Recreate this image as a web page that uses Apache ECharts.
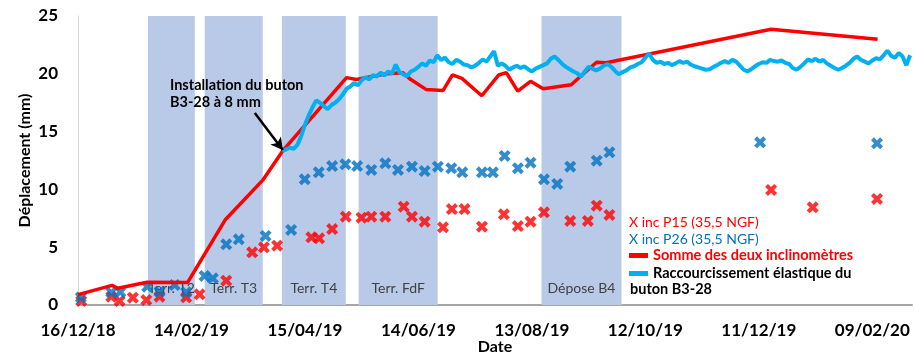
<!DOCTYPE html>
<html>
<head>
<meta charset="utf-8">
<title>Déplacement - buton B3-28</title>
<script src="https://cdn.jsdelivr.net/npm/echarts@6/dist/echarts.min.js"></script>
<style>
  html, body { margin: 0; padding: 0; background: #ffffff; }
  #chart { width: 914px; height: 355px; }
</style>
</head>
<body>
<div id="chart"></div>
<script>
// x values are days counted from 16/12/2018
const ORIGIN_UTC = Date.UTC(2018, 11, 16);

// Sum of the two inclinometers
const sumDays = [0, 18, 21, 36.5, 58, 78, 97.7, 108.3, 142, 147.2, 163, 171.7, 176, 184, 193, 198, 203, 213.5, 222.5, 226.5, 232.5, 239.3, 246, 260.8, 265.2, 274.2, 279.3, 366.5, 422.8];
const sumVals = [0.9, 1.7, 1.45, 1.97, 1.95, 7.4, 10.8, 13.35, 19.67, 19.5, 20.0, 20.1, 19.5, 18.65, 18.55, 19.9, 19.6, 18.1, 19.9, 20.1, 18.5, 19.35, 18.7, 19.05, 19.7, 21.0, 20.95, 23.85, 22.98];

// Inclinometer P15 (35,5 NGF)
const p15Days = [1.7, 17.6, 22, 29, 36.1, 43.1, 57.2, 64.3, 78.4, 92.1, 98.3, 105.3, 123.4, 127.5, 134.4, 141.6, 149.9, 155.1, 162.5, 172.2, 176.6, 183.3, 193, 197.7, 204.4, 213.6, 225.2, 232.6, 239.3, 246.4, 260.3, 269.6, 274.3, 281, 366.5, 388.5, 422.5];
const p15Vals = [0.35, 0.72, 0.35, 0.63, 0.43, 0.72, 0.66, 0.92, 2.1, 4.56, 4.99, 5.13, 5.86, 5.77, 6.57, 7.64, 7.55, 7.64, 7.64, 8.5, 7.64, 7.21, 6.72, 8.3, 8.3, 6.77, 7.85, 6.83, 7.21, 8.02, 7.27, 7.27, 8.59, 7.79, 9.95, 8.45, 9.17];

// Inclinometer P26 (35,5 NGF)
const p26Days = [1.5, 17.6, 22.4, 36.6, 43.1, 51.1, 57.2, 66.9, 71.3, 78.4, 85, 99.2, 112.7, 119.9, 127.3, 134.4, 141.4, 147.6, 155.1, 162.5, 169.2, 176.6, 183.3, 190.3, 197.4, 203.2, 213.6, 219.4, 225.6, 232.6, 239.3, 246.4, 253.4, 260.3, 274.3, 281, 360.7, 422.5];
const p26Vals = [0.65, 1.1, 1.12, 1.58, 1.15, 1.73, 1.1, 2.51, 2.31, 5.25, 5.68, 5.97, 6.49, 10.87, 11.48, 12.02, 12.17, 12.02, 11.68, 12.26, 11.68, 11.97, 11.59, 11.97, 11.83, 11.48, 11.48, 11.48, 12.89, 11.83, 12.31, 10.87, 10.47, 11.97, 12.48, 13.21, 14.07, 13.99];

// Elastic shortening of strut B3-28, one reading every 2 days from day 108
const elasticStartDay = 108;
const elasticStepDays = 2;
const elasticVals = [
  13.3, 13.45, 13.6, 13.5, 13.85, 14.6, 15.6, 16.4, 17.1, 17.7,
  17.5, 17.2, 16.95, 17.3, 17.5, 17.8, 18.2, 18.7, 18.9, 19.2,
  19.0, 19.45, 19.7, 19.5, 19.9, 19.75, 20.1, 19.85, 20.2, 20.0,
  20.8, 20.15, 19.95, 19.8, 20.2, 20.35, 20.6, 20.9, 20.7, 21.15,
  21.0, 21.6, 21.2, 21.4, 21.0, 20.85, 21.2, 21.05, 20.8, 20.75,
  20.55, 20.7, 20.95, 21.25, 21.05, 21.5, 21.95, 20.7, 20.9, 20.7,
  20.35, 20.55, 20.7, 20.5, 20.65, 20.4, 20.2, 20.45, 20.6, 20.75,
  20.9, 21.3, 21.5, 21.2, 20.85, 20.6, 20.4, 20.2, 20.05, 19.75,
  20.2, 20.6, 20.45, 20.3, 20.45, 20.7, 20.85, 20.6, 20.25, 19.95,
  20.15, 20.3, 20.55, 20.65, 20.85, 21.0, 21.4, 21.75, 21.2, 20.95,
  21.05, 20.85, 20.95, 20.75, 20.9, 21.1, 20.95, 21.05, 20.8, 20.65,
  20.55, 20.45, 20.35, 20.4, 20.6, 20.75, 20.95, 21.1, 20.95, 21.2,
  21.05, 20.7, 20.35, 20.2, 20.4, 20.65, 20.85, 21.0, 20.95, 21.2,
  21.1, 21.05, 21.15, 20.95, 20.85, 20.5, 20.35, 20.6, 20.9, 21.25,
  21.1, 21.3, 21.05, 21.2, 20.9, 20.7, 20.5, 20.35, 20.5, 20.7,
  20.95, 21.3, 21.5, 21.2, 21.05, 20.9, 21.15, 21.35, 21.25, 21.6,
  22.0, 21.55, 21.4, 21.8, 21.5, 20.75, 21.6
];

// Works phases (start day, end day, label)
const phaseStarts = [37, 67, 107.8, 148.4, 245.1];
const phaseEnds   = [61.8, 97.7, 141.6, 190.2, 287.4];
const phaseLabels = ['Terr. T2', 'Terr. T3', 'Terr. T4', 'Terr. FdF', 'Dépose B4'];

// Strut installation point and the arrow tail
const installPoint = [108.3, 13.4];
const installArrowTail = [93.5, 16.6];

const yTicks = { min: 0, max: 25, interval: 5 };
const xTicks = { min: 0, max: 441, interval: 60 };

const FONT = 'Lato, Carlito, Calibri, "Liberation Sans", sans-serif';

function dayLabel(v) {
  const d = new Date(ORIGIN_UTC + Math.round(v) * 86400000);
  const dd = String(d.getUTCDate()).padStart(2, '0');
  const mm = String(d.getUTCMonth() + 1).padStart(2, '0');
  const yy = String(d.getUTCFullYear() % 100).padStart(2, '0');
  return dd + '/' + mm + '/' + yy;
}

function zip(xs, ys) { return xs.map((x, i) => [x, ys[i]]); }

// bold "x" marker
const crossPath = 'path://M0,2.4 L2.4,0 L5,2.6 L7.6,0 L10,2.4 L7.4,5 L10,7.6 L7.6,10 L5,7.4 L2.4,10 L0,7.6 L2.6,5 Z';

const NAME_P15 = 'X inc P15 (35,5 NGF)';
const NAME_P26 = 'X inc P26 (35,5 NGF)';
const NAME_SUM = 'Somme des deux inclinomètres';
const NAME_EL = 'Raccourcissement élastique du';

const chart = echarts.init(document.getElementById('chart'), null, { renderer: 'canvas' });

chart.setOption({
  animation: false,
  backgroundColor: '#ffffff',
  textStyle: { fontFamily: FONT },
  grid: { left: 78, right: 2, top: 16, bottom: 50, containLabel: false, outerBoundsMode: 'none' },
  xAxis: {
    type: 'value',
    min: xTicks.min, max: xTicks.max, interval: xTicks.interval,
    name: 'Date',
    nameLocation: 'middle',
    nameGap: 34,
    nameMoveOverlap: false,
    nameTextStyle: { fontFamily: FONT, fontWeight: 'bold', fontSize: 16, color: '#000' },
    axisLine: { show: true, lineStyle: { color: '#a6a6a6', width: 2 } },
    axisTick: { show: false },
    splitLine: { show: false },
    axisLabel: {
      formatter: dayLabel,
      showMaxLabel: false,
      margin: 17,
      fontFamily: FONT, fontWeight: 'bold', fontSize: 17, color: '#000'
    }
  },
  yAxis: {
    type: 'value',
    min: yTicks.min, max: yTicks.max, interval: yTicks.interval,
    name: 'Déplacement (mm)',
    nameLocation: 'middle',
    nameRotate: 90,
    nameGap: 45,
    nameMoveOverlap: false,
    nameTextStyle: { fontFamily: FONT, fontWeight: 'bold', fontSize: 16, color: '#000' },
    axisLine: { show: true, lineStyle: { color: '#d9d9d9', width: 1 } },
    axisTick: { show: false },
    splitLine: { show: false },
    axisLabel: { margin: 20, fontFamily: FONT, fontWeight: 'bold', fontSize: 17, color: '#000' }
  },
  legend: [
    {
      orient: 'vertical', left: 619, top: 210,
      icon: 'none', itemWidth: 0, itemHeight: 14, itemGap: 3,
      selectedMode: false,
      textStyle: { fontFamily: FONT, fontSize: 14, lineHeight: 14 },
      data: [
        { name: NAME_P15, textStyle: { color: '#ff0000' } },
        { name: NAME_P26, textStyle: { color: '#0070c0' } }
      ]
    },
    {
      orient: 'vertical', left: 624, top: 243,
      icon: 'rect', itemWidth: 19, itemHeight: 5, itemGap: 3,
      selectedMode: false,
      textStyle: { fontFamily: FONT, fontSize: 14.5, fontWeight: 'bold', lineHeight: 14 },
      data: [
        { name: NAME_SUM, textStyle: { color: '#ff0000', fontWeight: 'bold' } },
        { name: NAME_EL, textStyle: { color: '#000000', fontWeight: 'bold' } }
      ]
    }
  ],
  graphic: [
    {
      type: 'text', left: 630, top: 282, z: 100, silent: true,
      style: { text: 'buton B3-28', fontFamily: FONT, fontSize: 14.5, fontWeight: 'bold', fill: '#000' }
    },
    {
      type: 'text', left: 170, top: 77, z: 100, silent: true,
      style: {
        text: 'Installation du buton\nB3-28 à 8 mm',
        fontFamily: FONT, fontSize: 14.5, fontWeight: 'bold', fill: '#000', lineHeight: 17
      }
    }
  ],
  series: [
    {
      // works phases
      name: 'phases',
      type: 'line',
      data: [],
      z: 1,
      silent: true,
      markArea: {
        silent: true,
        itemStyle: { color: '#b9cae8' },
        label: {
          show: true, position: 'insideBottom', distance: 10,
          fontFamily: FONT, fontSize: 14, color: '#404040'
        },
        data: phaseStarts.map((s, i) => [
          { xAxis: s, yAxis: yTicks.min, name: phaseLabels[i] },
          { xAxis: phaseEnds[i], yAxis: yTicks.max }
        ])
      }
    },
    {
      name: NAME_P15,
      type: 'scatter',
      z: 2,
      symbol: crossPath,
      symbolSize: 12,
      itemStyle: { color: '#ff0000' },
      data: zip(p15Days, p15Vals)
    },
    {
      name: NAME_P26,
      type: 'scatter',
      z: 2,
      symbol: crossPath,
      symbolSize: 12,
      itemStyle: { color: '#0070c0' },
      data: zip(p26Days, p26Vals)
    },
    {
      name: NAME_SUM,
      type: 'line',
      z: 3,
      showSymbol: false,
      symbol: 'none',
      lineStyle: { color: '#ff0000', width: 3.5 },
      itemStyle: { color: '#ff0000' },
      data: zip(sumDays, sumVals)
    },
    {
      name: NAME_EL,
      type: 'line',
      z: 4,
      showSymbol: false,
      symbol: 'none',
      lineStyle: { color: '#00b0f0', width: 4 },
      itemStyle: { color: '#00b0f0' },
      data: elasticVals.map((v, i) => [elasticStartDay + i * elasticStepDays, v]),
      markLine: {
        silent: true,
        symbol: ['none', 'arrow'],
        symbolSize: [10, 12],
        label: { show: false },
        lineStyle: { color: '#000000', width: 2.5, type: 'solid' },
        data: [[{ coord: installArrowTail }, { coord: installPoint }]]
      }
    }
  ]
});
</script>
</body>
</html>
